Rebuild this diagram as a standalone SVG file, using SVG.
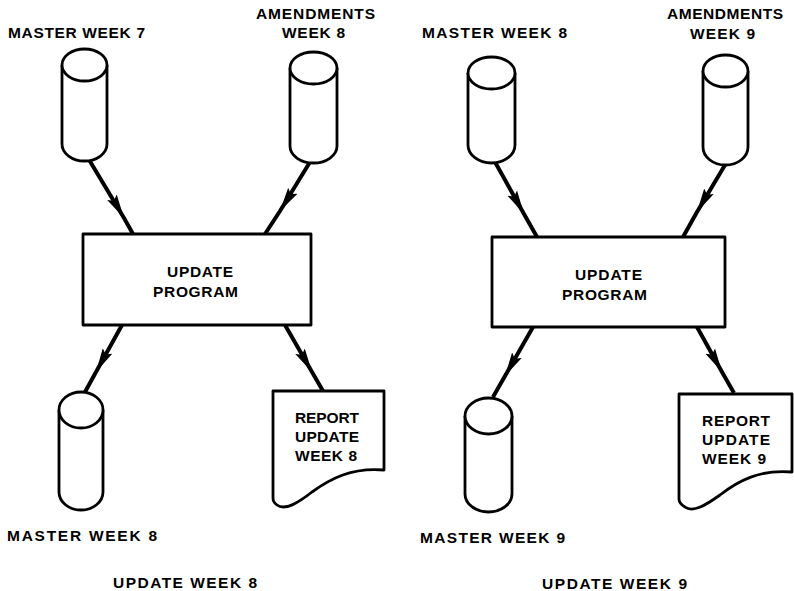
<svg xmlns="http://www.w3.org/2000/svg" width="794" height="591" viewBox="0 0 794 591">
<style>
  .shape { fill: #fff; stroke: #000; stroke-width: 2.8; stroke-linejoin: round; }
  .conn { fill: none; stroke: #000; stroke-width: 4; marker-mid: url(#ah); }
  text { font-family: "Liberation Sans", Arial, sans-serif; font-weight: bold; font-size: 15.5px; fill: #000; }
</style>
<defs>
  <marker id="ah" markerUnits="userSpaceOnUse" viewBox="0 0 24 12" refX="24" refY="6" markerWidth="24" markerHeight="12" orient="auto">
    <path d="M0,0.5 L24,6 L0,11.5 L4,6 Z" fill="#000"/>
  </marker>
</defs>
<rect width="794" height="591" fill="#fff"/>

<g id="connectors">
  <path class="conn" d="M88,158 L124,218 L133,234"/>
  <path class="conn" d="M310,162 L280,211 L265,234"/>
  <path class="conn" d="M122,325 L96,372 L85,392"/>
  <path class="conn" d="M285,325 L312,372 L323,391"/>
  <path class="conn" d="M495,162 L524,214 L537,237"/>
  <path class="conn" d="M725,165 L697,212 L683,237"/>
  <path class="conn" d="M533,327 L505,376 L493,397"/>
  <path class="conn" d="M697,327 L722,372 L734,393"/>
</g>

<g id="master-week7">
  <path class="shape" d="M62,144 L62,65 A22.5,16 0 0 1 107,65 L107,144 A22.5,17 0 0 1 62,144 Z"/>
  <path class="shape" d="M62,65 A22.5,16 0 0 0 107,65"/>
  <text x="8" y="38" textLength="137" lengthAdjust="spacing">MASTER WEEK 7</text>
</g>

<g id="amendments-week8">
  <path class="shape" d="M290,146 L290,68 A23.5,16 0 0 1 337,68 L337,146 A23.5,17 0 0 1 290,146 Z"/>
  <path class="shape" d="M290,68 A23.5,16 0 0 0 337,68"/>
  <text x="256" y="19" textLength="119" lengthAdjust="spacing">AMENDMENTS</text>
  <text x="282" y="38" textLength="63" lengthAdjust="spacing">WEEK 8</text>
</g>

<g id="update-program-1">
  <rect class="shape" x="83" y="234" width="228" height="91"/>
  <text x="167" y="277" textLength="66" lengthAdjust="spacing">UPDATE</text>
  <text x="153" y="297" textLength="85" lengthAdjust="spacing">PROGRAM</text>
</g>

<g id="master-week8-out">
  <path class="shape" d="M59,492 L59,410 A22,18 0 0 1 103,410 L103,492 A22,18 0 0 1 59,492 Z"/>
  <path class="shape" d="M59,410 A22,18 0 0 0 103,410"/>
  <text x="7" y="541" textLength="150" lengthAdjust="spacing">MASTER WEEK 8</text>
</g>

<g id="report-week8">
  <path class="shape" d="M273,391 L384,391 L384,470 C352,467 330,479 312,492 C298,503 285,511 277,505 C273,502 273,500 273,497 Z"/>
  <text x="295" y="423" textLength="64" lengthAdjust="spacing">REPORT</text>
  <text x="295" y="442" textLength="64" lengthAdjust="spacing">UPDATE</text>
  <text x="295" y="461" textLength="62" lengthAdjust="spacing">WEEK 8</text>
</g>

<text id="caption-week8" x="113" y="588" textLength="144" lengthAdjust="spacing">UPDATE WEEK 8</text>

<g id="master-week8">
  <path class="shape" d="M468,145 L468,73 A23.5,16 0 0 1 515,73 L515,145 A23.5,18 0 0 1 468,145 Z"/>
  <path class="shape" d="M468,73 A23.5,16 0 0 0 515,73"/>
  <text x="422" y="38" textLength="145" lengthAdjust="spacing">MASTER WEEK 8</text>
</g>

<g id="amendments-week9">
  <path class="shape" d="M703,147 L703,71 A22.5,16 0 0 1 748,71 L748,147 A22.5,18 0 0 1 703,147 Z"/>
  <path class="shape" d="M703,71 A22.5,16 0 0 0 748,71"/>
  <text x="667" y="19" textLength="116" lengthAdjust="spacing">AMENDMENTS</text>
  <text x="690" y="39" textLength="65" lengthAdjust="spacing">WEEK 9</text>
</g>

<g id="update-program-2">
  <rect class="shape" x="492" y="237" width="233" height="90"/>
  <text x="575" y="280" textLength="67" lengthAdjust="spacing">UPDATE</text>
  <text x="562" y="300" textLength="85" lengthAdjust="spacing">PROGRAM</text>
</g>

<g id="master-week9-out">
  <path class="shape" d="M465,494 L465,416 A23.5,18 0 0 1 512,416 L512,494 A23.5,18 0 0 1 465,494 Z"/>
  <path class="shape" d="M465,416 A23.5,18 0 0 0 512,416"/>
  <text x="420" y="543" textLength="145" lengthAdjust="spacing">MASTER WEEK 9</text>
</g>

<g id="report-week9">
  <path class="shape" d="M679,394 L792,394 L792,472 C760,469 738,481 720,495 C706,505 693,513 685,507 C680,504 679,502 679,499 Z"/>
  <text x="702" y="426" textLength="68" lengthAdjust="spacing">REPORT</text>
  <text x="702" y="445" textLength="68" lengthAdjust="spacing">UPDATE</text>
  <text x="702" y="464" textLength="64" lengthAdjust="spacing">WEEK 9</text>
</g>

<text id="caption-week9" x="542" y="589" textLength="145" lengthAdjust="spacing">UPDATE WEEK 9</text>
</svg>
